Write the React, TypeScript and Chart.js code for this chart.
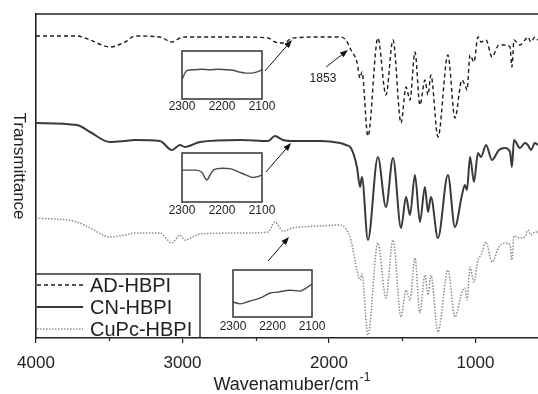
import React, { useEffect, useRef } from "react";
import { Chart, registerables } from "chart.js";

Chart.register(...registerables);

const FONT = '"Liberation Sans", Arial, Helvetica, sans-serif';

// ---- main spectra (wavenumber in cm-1, transmittance in offset arbitrary units) ----
const wavenumbers = [
  4000, 3720, 3631, 3495, 3392, 3324, 3154, 3072, 3017, 2983,
  2880, 2607, 2416, 2369, 2314, 2246, 2061, 1925, 1884, 1850,
  1809, 1788, 1775, 1734, 1666, 1611, 1563, 1508, 1474, 1447,
  1413, 1379, 1345, 1324, 1304, 1256, 1188, 1140, 1092, 1072,
  1058, 1037, 1010, 983, 962, 928, 887, 840, 799, 764,
  751, 737, 696, 662, 642, 621, 594, 573,
];
const adHbpi = [
  302, 302, 298, 291, 296, 302, 301, 296, 300, 301,
  301, 301, 300, 296, 295, 300, 301, 301, 298, 288,
  276, 260, 266, 202, 300, 243, 298, 215, 251, 238,
  286, 233, 258, 243, 263, 201, 283, 220, 258, 253,
  248, 283, 276, 301, 296, 298, 281, 293, 293, 291,
  271, 298, 293, 298, 301, 296, 301, 298,
];
const cnHbpi = [
  215, 213, 206, 196, 197, 198, 197, 188, 193, 191,
  196, 198, 197, 202, 198, 197, 197, 195, 193, 190,
  171, 151, 161, 98, 181, 131, 180, 110, 141, 123,
  163, 116, 151, 126, 141, 100, 163, 111, 143, 153,
  148, 181, 156, 185, 181, 193, 178, 188, 190, 186,
  171, 198, 190, 195, 193, 188, 195, 193,
];
const cupcHbpi = [
  120, 116, 110, 101, 103, 105, 105, 95, 103, 98,
  104, 105, 106, 116, 107, 110, 112, 113, 109, 98,
  68, 58, 64, 3, 95, 40, 98, 21, 48, 38,
  80, 25, 63, 43, 63, 6, 68, 21, 46, 50,
  38, 71, 56, 78, 83, 96, 76, 91, 95, 93,
  78, 102, 100, 101, 108, 103, 106, 106,
];
const seriesNames = ["AD-HBPI", "CN-HBPI", "CuPc-HBPI"];
const majorTicks = [4000, 3000, 2000, 1000];
const minorTicks = [3500, 2500, 1500];

// ---- inset spectra (2300-2100 cm-1) ----
const inset1Wn = [2300, 2288, 2270, 2250, 2230, 2210, 2190, 2172, 2160, 2140, 2125, 2110, 2100];
const inset1Val = [41, 59, 61, 62, 61, 62, 61, 60, 57, 54, 54, 57, 61];
const inset2Wn = [2300, 2265, 2250, 2238, 2228, 2220, 2200, 2180, 2160, 2140, 2122, 2110, 2100];
const inset2Val = [65, 65, 60, 45, 58, 66, 69, 68, 62, 55, 50, 52, 55];
const inset3Wn = [2300, 2282, 2257, 2232, 2206, 2186, 2156, 2130, 2118, 2100];
const inset3Val = [32, 28, 34, 40, 51, 53, 57, 55, 60, 70];
const insetTicks = [2300, 2200, 2100];

// ---- annotations (data coordinates) ----
const arrows = [
  { from: [2437, 267], to: [2253, 298] },
  { from: [2020, 271], to: [1870, 288] },
  { from: [2430, 166], to: [2259, 195] },
  { from: [2416, 77], to: [2273, 101] },
];
const peakLabel = { text: "1853", at: [2041, 259] };

const plainLabel = (v: any) => String(v);

const decorPlugin = {
  id: "decor",
  afterDraw(chart: any) {
    const { ctx, chartArea: a, scales } = chart;
    const xs = scales.x;
    const ys = scales.y;
    ctx.save();
    // top frame
    ctx.strokeStyle = "#222";
    ctx.lineWidth = 1.6;
    ctx.beginPath();
    ctx.moveTo(a.left, a.top);
    ctx.lineTo(a.right, a.top);
    ctx.stroke();
    // minor ticks
    ctx.lineWidth = 1.2;
    for (const v of minorTicks) {
      const px = Math.round(xs.getPixelForValue(v)) + 0.5;
      ctx.beginPath();
      ctx.moveTo(px, a.bottom);
      ctx.lineTo(px, a.bottom + 3);
      ctx.stroke();
    }
    // y title (rotated clockwise)
    ctx.fillStyle = "#222";
    ctx.save();
    ctx.translate(19, 166);
    ctx.rotate(Math.PI / 2);
    ctx.font = `17px ${FONT}`;
    ctx.textAlign = "center";
    ctx.textBaseline = "middle";
    ctx.fillText("Transmittance", 0, 0);
    ctx.restore();
    // x title with superscript
    ctx.font = `18px ${FONT}`;
    const main = "Wavenamuber/cm";
    const sup = "-1";
    const wMain = ctx.measureText(main).width;
    ctx.font = `12px ${FONT}`;
    const wSup = ctx.measureText(sup).width;
    const x0 = 292 - (wMain + wSup + 1) / 2;
    ctx.textAlign = "left";
    ctx.textBaseline = "alphabetic";
    ctx.font = `18px ${FONT}`;
    ctx.fillText(main, x0, 390);
    ctx.font = `12px ${FONT}`;
    ctx.fillText(sup, x0 + wMain + 1, 381);
    // arrows
    ctx.strokeStyle = "#111";
    ctx.fillStyle = "#111";
    ctx.lineWidth = 1;
    for (const ar of arrows) {
      const x1 = xs.getPixelForValue(ar.from[0]);
      const y1 = ys.getPixelForValue(ar.from[1]);
      const x2 = xs.getPixelForValue(ar.to[0]);
      const y2 = ys.getPixelForValue(ar.to[1]);
      const ang = Math.atan2(y2 - y1, x2 - x1);
      const hl = 8;
      const hw = 3;
      const bx = x2 - hl * Math.cos(ang);
      const by = y2 - hl * Math.sin(ang);
      ctx.beginPath();
      ctx.moveTo(x1, y1);
      ctx.lineTo(bx, by);
      ctx.stroke();
      ctx.beginPath();
      ctx.moveTo(x2, y2);
      ctx.lineTo(bx + hw * Math.sin(ang), by - hw * Math.cos(ang));
      ctx.lineTo(bx - hw * Math.sin(ang), by + hw * Math.cos(ang));
      ctx.closePath();
      ctx.fill();
    }
    ctx.fillStyle = "#222";
    ctx.font = `12px ${FONT}`;
    ctx.textAlign = "center";
    ctx.textBaseline = "middle";
    ctx.fillText(
      peakLabel.text,
      xs.getPixelForValue(peakLabel.at[0]),
      ys.getPixelForValue(peakLabel.at[1])
    );
    // legend
    const lx = a.left;
    const lr = 200;
    const ltop = 274;
    ctx.strokeStyle = "#333";
    ctx.lineWidth = 1.5;
    ctx.beginPath();
    ctx.moveTo(lx, ltop);
    ctx.lineTo(lr, ltop);
    ctx.lineTo(lr, a.bottom);
    ctx.stroke();
    const rows = [285, 307, 329];
    chart.data.datasets.forEach((ds: any, i: number) => {
      const yy = rows[i];
      ctx.save();
      ctx.strokeStyle = ds.borderColor;
      ctx.lineWidth = ds.borderWidth;
      ctx.setLineDash(ds.borderDash || []);
      ctx.beginPath();
      ctx.moveTo(lx + 1, yy);
      ctx.lineTo(83, yy);
      ctx.stroke();
      ctx.restore();
      ctx.fillStyle = "#222";
      ctx.font = `20px ${FONT}`;
      ctx.textAlign = "left";
      ctx.textBaseline = "alphabetic";
      ctx.fillText(ds.label, 90, yy + 7);
    });
    ctx.restore();
  },
};

const boxPlugin = {
  id: "box",
  afterDraw(chart: any) {
    const { ctx, chartArea: a } = chart;
    ctx.save();
    ctx.strokeStyle = "#333";
    ctx.lineWidth = 1.5;
    ctx.strokeRect(a.left, a.top, a.right - a.left, a.bottom - a.top);
    ctx.restore();
  },
};

function Inset(props: {
  left: number;
  top: number;
  width: number;
  height: number;
  axisH: number;
  pad: number;
  wn: number[];
  vals: number[];
}) {
  const ref = useRef<HTMLCanvasElement>(null);
  useEffect(() => {
    const chart = new Chart(ref.current as HTMLCanvasElement, {
      type: "line",
      data: {
        datasets: [
          {
            data: props.wn.map((w, i) => ({ x: w, y: props.vals[i] })),
            borderColor: "#4a4a4a",
            borderWidth: 1.4,
            pointRadius: 0,
            cubicInterpolationMode: "monotone",
          },
        ],
      },
      options: {
        responsive: false,
        animation: false,
        events: [],
        layout: { padding: { left: 20, right: 20, top: 2, bottom: 0 } },
        plugins: { legend: { display: false }, tooltip: { enabled: false } },
        scales: {
          x: {
            type: "linear",
            reverse: true,
            min: 2100,
            max: 2300,
            afterBuildTicks: (s: any) => {
              s.ticks = insetTicks.map((v) => ({ value: v }));
            },
            afterFit: (s: any) => {
              s.height = props.axisH;
            },
            grid: { display: false, drawTicks: false },
            border: { display: false },
            ticks: {
              font: { size: 12, family: FONT },
              color: "#222",
              padding: props.pad,
              maxRotation: 0,
              autoSkip: false,
              callback: plainLabel,
            },
          },
          y: { display: false, min: 0, max: 100 },
        },
      } as any,
      plugins: [boxPlugin],
    });
    return () => chart.destroy();
  }, []);
  return (
    <canvas
      ref={ref}
      width={props.width}
      height={props.height}
      style={{ position: "absolute", left: props.left, top: props.top }}
    />
  );
}

export default function App() {
  const ref = useRef<HTMLCanvasElement>(null);
  useEffect(() => {
    const toPts = (vals: number[]) => wavenumbers.map((w, i) => ({ x: w, y: vals[i] }));
    const chart = new Chart(ref.current as HTMLCanvasElement, {
      type: "line",
      data: {
        datasets: [
          {
            label: seriesNames[0],
            data: toPts(adHbpi),
            borderColor: "#1c1c1c",
            borderWidth: 1.4,
            borderDash: [4, 3],
            pointRadius: 0,
            cubicInterpolationMode: "monotone",
          },
          {
            label: seriesNames[1],
            data: toPts(cnHbpi),
            borderColor: "#3a3a3a",
            borderWidth: 2,
            pointRadius: 0,
            cubicInterpolationMode: "monotone",
          },
          {
            label: seriesNames[2],
            data: toPts(cupcHbpi),
            borderColor: "#8c8c8c",
            borderWidth: 1.5,
            borderDash: [1.5, 1.5],
            pointRadius: 0,
            cubicInterpolationMode: "monotone",
          },
        ],
      },
      options: {
        responsive: false,
        animation: false,
        events: [],
        layout: { padding: { left: 0, right: 0, top: 14, bottom: 0 } },
        plugins: { legend: { display: false }, tooltip: { enabled: false } },
        scales: {
          x: {
            type: "linear",
            reverse: true,
            min: 573,
            max: 4000,
            afterBuildTicks: (s: any) => {
              s.ticks = majorTicks.map((v) => ({ value: v }));
            },
            afterFit: (s: any) => {
              s.height = 56;
            },
            grid: {
              display: true,
              drawOnChartArea: false,
              drawTicks: true,
              tickLength: 5,
              color: "#222",
              lineWidth: 1.2,
            },
            border: { display: true, color: "#222", width: 1.6 },
            ticks: {
              font: { size: 17, family: FONT },
              color: "#222",
              padding: 10,
              maxRotation: 0,
              autoSkip: false,
              callback: plainLabel,
            },
          },
          y: {
            min: 0,
            max: 324,
            afterFit: (s: any) => {
              s.width = 36;
            },
            grid: { display: false },
            ticks: { display: false },
            border: { display: true, color: "#222", width: 1.6 },
          },
        },
      } as any,
      plugins: [decorPlugin],
    });
    return () => chart.destroy();
  }, []);

  return (
    <div
      style={{
        position: "fixed",
        left: 0,
        top: 0,
        width: 538,
        height: 394,
        background: "#fff",
      }}
    >
      <canvas ref={ref} width={538} height={394} style={{ position: "absolute", left: 0, top: 0 }} />
      <Inset left={162} top={49} width={120} height={68} axisH={18} pad={0} wn={inset1Wn} vals={inset1Val} />
      <Inset left={162} top={151} width={120} height={68} axisH={17} pad={1} wn={inset2Wn} vals={inset2Val} />
      <Inset left={213} top={268} width={119} height={68} axisH={19} pad={2} wn={inset3Wn} vals={inset3Val} />
    </div>
  );
}
